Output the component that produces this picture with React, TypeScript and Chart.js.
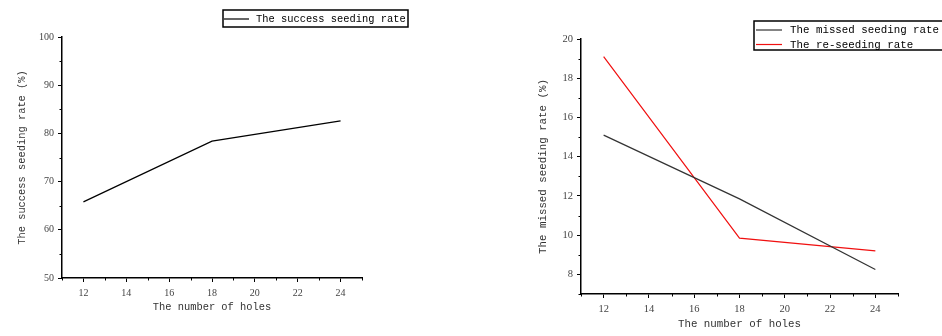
import React, { useEffect, useRef } from "react";
import { Chart, registerables } from "chart.js";
Chart.register(...registerables);

// ---- data ----
const holes = [12, 18, 24];
const successRate = [65.8, 78.4, 82.6];
const missedRate = [15.1, 11.85, 8.25];
const reseedRate = [19.1, 9.85, 9.2];
const xTickValues = [12, 14, 16, 18, 20, 22, 24];
const xMinorValues = [11, 13, 15, 17, 19, 21, 23, 25];
const leftYTickValues = [50, 60, 70, 80, 90, 100];
const leftYMinorValues = [55, 65, 75, 85, 95];
const rightYTickValues = [8, 10, 12, 14, 16, 18, 20];
const rightYMinorValues = [7, 9, 11, 13, 15, 17, 19];

const MONO = '"Liberation Mono", "DejaVu Sans Mono", monospace';
const SERIF = '"Liberation Serif", "DejaVu Serif", serif';

const boxLegend = {
  id: "boxLegend",
  afterDraw(chart: any, _a: any, opts: any) {
    const ctx = chart.ctx;
    ctx.save();
    ctx.strokeStyle = "#000";
    ctx.lineWidth = 1.5;
    ctx.strokeRect(opts.x, opts.y, opts.w, opts.h);
    ctx.font = `${opts.fontSize}px ${MONO}`;
    ctx.textBaseline = "middle";
    ctx.textAlign = "left";
    chart.data.datasets.forEach((ds: any, i: number) => {
      const cy = opts.firstY + i * opts.rowH;
      ctx.strokeStyle = ds.borderColor;
      ctx.lineWidth = 1.2;
      ctx.beginPath();
      ctx.moveTo(opts.lineX1, cy);
      ctx.lineTo(opts.lineX2, cy);
      ctx.stroke();
      ctx.fillStyle = "#000";
      ctx.fillText(ds.label, opts.textX, cy + 0.5);
    });
    ctx.restore();
  },
};

const minorTicks = {
  id: "minorTicks",
  afterDraw(chart: any, _a: any, opts: any) {
    const ctx = chart.ctx;
    const { left, bottom } = chart.chartArea;
    ctx.save();
    ctx.strokeStyle = "#000";
    ctx.lineWidth = 1;
    (opts.x || []).forEach((v: number) => {
      const px = Math.round(chart.scales.x.getPixelForValue(v)) + 0.5;
      ctx.beginPath();
      ctx.moveTo(px, bottom);
      ctx.lineTo(px, bottom + 2.5);
      ctx.stroke();
    });
    (opts.y || []).forEach((v: number) => {
      const py = Math.round(chart.scales.y.getPixelForValue(v)) + 0.5;
      ctx.beginPath();
      ctx.moveTo(left - 2.5, py);
      ctx.lineTo(left, py);
      ctx.stroke();
    });
    ctx.restore();
  },
};

function makeConfig(p: any): any {
  return {
    type: "line",
    data: {
      datasets: p.series.map((s: any) => ({
        label: s.label,
        data: holes.map((h, i) => ({ x: h, y: s.values[i] })),
        borderColor: s.color,
        borderWidth: 1.2,
        pointRadius: 0,
        tension: 0,
        fill: false,
      })),
    },
    options: {
      responsive: false,
      animation: false,
      devicePixelRatio: 1,
      layout: { padding: p.padding },
      plugins: {
        legend: { display: false },
        tooltip: { enabled: false },
        boxLegend: p.legend,
        minorTicks: { x: xMinorValues, y: p.yMinor },
      },
      scales: {
        x: {
          type: "linear",
          min: 11,
          max: 25,
          afterBuildTicks: (s: any) => {
            s.ticks = xTickValues.map((v) => ({ value: v }));
          },
          afterFit: (s: any) => {
            s.height = p.xAxisHeight;
          },
          ticks: {
            font: { family: SERIF, size: p.tickSize },
            color: "#444",
            padding: 5,
            maxRotation: 0,
            autoSkip: false,
          },
          grid: { display: true, drawOnChartArea: false, tickLength: 4, color: "#000" },
          border: { display: true, color: "#000", width: 1.5 },
          title: {
            display: true,
            text: "The number of holes",
            font: { family: MONO, size: p.titleSize },
            color: "#333",
            padding: { top: 0, bottom: p.xTitlePad },
          },
        },
        y: {
          type: "linear",
          min: p.yMin,
          max: p.yMax,
          afterBuildTicks: (s: any) => {
            s.ticks = p.yTicks.map((v: number) => ({ value: v }));
          },
          afterFit: (s: any) => {
            s.width = p.yAxisWidth;
          },
          ticks: {
            font: { family: SERIF, size: p.tickSize },
            color: "#444",
            padding: 4,
          },
          grid: { display: true, drawOnChartArea: false, tickLength: 4, color: "#000" },
          border: { display: true, color: "#000", width: 1.5 },
          title: {
            display: true,
            text: p.yTitle,
            font: { family: MONO, size: p.titleSize },
            color: "#333",
            padding: { top: p.yTitlePad, bottom: 0 },
          },
        },
      },
    },
    plugins: [boxLegend, minorTicks],
  };
}

const leftParams = {
  series: [{ label: "The success seeding rate", values: successRate, color: "#000" }],
  padding: { left: 0, top: 37, right: 108, bottom: 0 },
  xAxisHeight: 58,
  yAxisWidth: 62,
  yMin: 50,
  yMax: 100,
  yTicks: leftYTickValues,
  yMinor: leftYMinorValues,
  yTitle: "The success seeding rate (%)",
  tickSize: 10,
  titleSize: 10.4,
  xTitlePad: 23,
  yTitlePad: 16,
  legend: { x: 223, y: 10, w: 185, h: 17, firstY: 19, rowH: 14, lineX1: 224, lineX2: 249, textX: 256, fontSize: 10.4 },
};

const rightParams = {
  series: [
    { label: "The missed seeding rate", values: missedRate, color: "#333" },
    { label: "The re-seeding rate", values: reseedRate, color: "#f01010" },
  ],
  padding: { left: 0, top: 39, right: 44, bottom: 0 },
  xAxisHeight: 42,
  yAxisWidth: 111,
  yMin: 7,
  yMax: 20,
  yTicks: rightYTickValues,
  yMinor: rightYMinorValues,
  yTitle: "The missed seeding rate (%)",
  tickSize: 10.5,
  titleSize: 10.8,
  xTitlePad: 5,
  yTitlePad: 67,
  legend: { x: 284, y: 21, w: 200, h: 29, firstY: 30, rowH: 14.5, lineX1: 286, lineX2: 312, textX: 320, fontSize: 10.8 },
};

function ChartCanvas({ params, left, width }: any) {
  const ref = useRef<HTMLCanvasElement>(null);
  useEffect(() => {
    const c = new Chart(ref.current as HTMLCanvasElement, makeConfig(params));
    return () => c.destroy();
  }, []);
  return (
    <canvas
      ref={ref}
      width={width}
      height={336}
      style={{ position: "absolute", left, top: 0, width, height: 336, display: "block" }}
    />
  );
}

export default function App() {
  return (
    <div style={{ position: "absolute", left: 0, top: 0, width: 942, height: 336, background: "#fff", overflow: "hidden" }}>
      <ChartCanvas params={leftParams} left={0} width={470} />
      <ChartCanvas params={rightParams} left={470} width={472} />
    </div>
  );
}
